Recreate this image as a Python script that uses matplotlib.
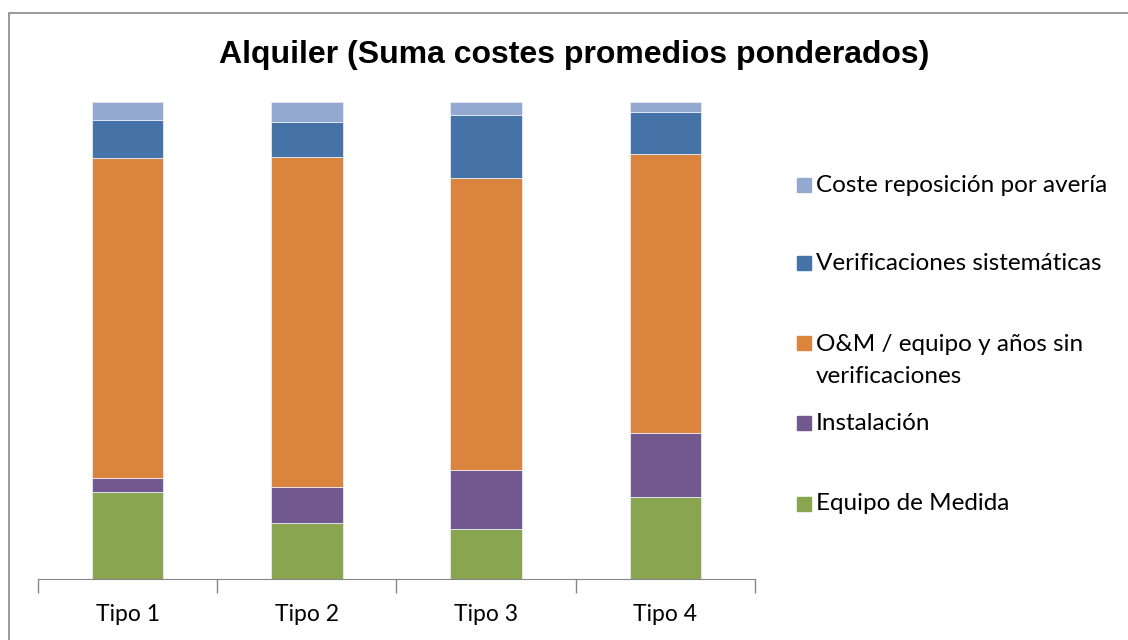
import numpy as np
import matplotlib.pyplot as plt
from matplotlib.patches import Rectangle

tipos = ['Tipo 1', 'Tipo 2', 'Tipo 3', 'Tipo 4']
# porcentajes de cada componente (barras apiladas al 100%)
equipo_medida = [18.3, 11.7, 10.5, 17.1]
instalacion = [2.9, 7.7, 12.3, 13.6]
om_equipo = [67.1, 69.1, 61.4, 58.4]
verificaciones = [8.0, 7.3, 13.2, 8.9]
reposicion = [3.7, 4.2, 2.6, 2.0]

series = [
    ('Equipo de Medida', equipo_medida, '#8AA54F'),
    ('Instalación', instalacion, '#71588F'),
    ('O&M / equipo y años sin\nverificaciones', om_equipo, '#DB843D'),
    ('Verificaciones sistemáticas', verificaciones, '#4572A7'),
    ('Coste reposición por avería', reposicion, '#93A9CF'),
]

fig = plt.figure(figsize=(11.28, 6.4), dpi=100)
W, H = 1128, 640
ax = fig.add_axes([38 / W, 1 - 579 / H, (755 - 38) / W, (579 - 102.3) / H])

x = np.arange(len(tipos))
bottom = np.zeros(len(tipos))
for nombre, vals, color in series:
    ax.bar(x, vals, width=0.4, bottom=bottom, color=color,
           edgecolor='#E8ECF4', linewidth=0.6)
    bottom += np.array(vals)

ax.set_xlim(-0.5, len(tipos) - 0.5)
ax.set_ylim(0, 100)
for s in ['top', 'left', 'right']:
    ax.spines[s].set_visible(False)
ax.spines['bottom'].set_color('#868686')
ax.set_yticks([])
ax.set_xticks(x)
ax.set_xticklabels(tipos, fontsize=16.5, family='Lato')
ax.tick_params(axis='x', which='major', length=0, pad=18)
ax.set_xticks(np.arange(-0.5, len(tipos)), minor=True)
ax.tick_params(axis='x', which='minor', length=10, color='#868686', width=1)

fig.text(574 / W, 1 - 55 / H, 'Alquiler (Suma costes promedios ponderados)',
         ha='center', va='center', fontsize=23, fontweight='bold',
         family='Liberation Sans')

# leyenda manual, orden inverso al apilado
ys = [185, 263, 343, 423, 504]
for (nombre, vals, color), yy in zip(reversed(series), ys):
    fig.patches.append(Rectangle((797 / W, 1 - (yy + 7) / H), 14 / W, 14 / H,
                                 transform=fig.transFigure, color=color))
    if '\n' in nombre:
        fig.text(816 / W, 1 - (yy - 9) / H, nombre, ha='left', va='top',
                 fontsize=17.5, family='Lato', linespacing=1.65)
    else:
        fig.text(816 / W, 1 - yy / H, nombre, ha='left', va='center',
                 fontsize=17.5, family='Lato')

fig.patches.append(Rectangle((8.5 / W, -0.1), 1.2, 1.1 - 12.5 / H,
                             transform=fig.transFigure, fill=False,
                             edgecolor='#888888', linewidth=1.2))

fig.savefig('out.png', dpi=100)
